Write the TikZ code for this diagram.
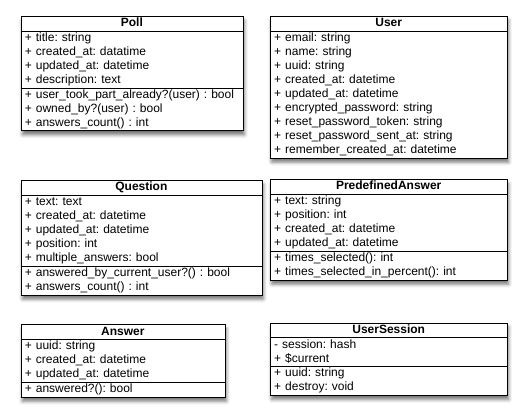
\documentclass[tikz,border=0pt]{standalone}
\usepackage{fontspec}
\setmainfont{Liberation Sans}
\usetikzlibrary{positioning,shapes.multipart,shadows.blur}

\begin{document}
\begin{tikzpicture}[
        x=1pt, y=1pt,
        node distance=20pt,
        umlclass/.style={draw, line width=0.8pt, fill=white, anchor=north west,
            rectangle split, rectangle split parts=3, align=left,
            inner xsep=4pt, inner ysep=0pt,
            font=\fontsize{12}{14}\selectfont\frenchspacing,
            blur shadow={shadow xshift=1.5pt, shadow yshift=-4pt, shadow blur radius=3.5pt, shadow opacity=55}},
        umlsmall/.style={umlclass, rectangle split parts=2}
    ]
        \useasboundingbox (0,0) rectangle (526,-411);
        \node[umlclass, text width=214pt] (poll) at (20.5,-16) {\hfill\textbf{Poll}\hfill\strut
            \nodepart{two}\strut + title: string\\
            \strut + created\_at: datatime\\
            \strut + updated\_at: datetime\\
            \strut + description: text
            \nodepart{three}\strut + user\_took\_part\_already?(user) : bool\\
            \strut + owned\_by?(user) : bool\\
            \strut + answers\_count() : int};
        \node[umlsmall, text width=229pt, right=26.5pt of poll.north east, anchor=north west] (user) {\hfill\textbf{User}\hfill\strut
            \nodepart{two}\strut + email: string\\
            \strut + name: string\\
            \strut + uuid: string\\
            \strut + created\_at: datetime\\
            \strut + updated\_at: datetime\\
            \strut + encrypted\_password: string\\
            \strut + reset\_password\_token: string\\
            \strut + reset\_password\_sent\_at: string\\
            \strut + remember\_created\_at: datetime};
        \node[umlclass, text width=233pt, below=49pt of poll.south west, anchor=north west] (question) {\hfill\textbf{Question}\hfill\strut
            \nodepart{two}\strut + text: text\\
            \strut + created\_at: datetime\\
            \strut + updated\_at: datetime\\
            \strut + position: int\\
            \strut + multiple\_answers: bool
            \nodepart{three}\strut + answered\_by\_current\_user?() : bool\\
            \strut + answers\_count() : int};
        \node[umlclass, text width=229pt, below=21pt of user.south west, anchor=north west] (predef) {\hfill\textbf{PredefinedAnswer}\hfill\strut
            \nodepart{two}\strut + text: string\\
            \strut + position: int\\
            \strut + created\_at: datetime\\
            \strut + updated\_at: datetime
            \nodepart{three}\strut + times\_selected(): int\\
            \strut + times\_selected\_in\_percent(): int};
        \node[umlclass, text width=196pt, below=29pt of question.south west, anchor=north west] (answer) {\hfill\textbf{Answer}\hfill\strut
            \nodepart{two}\strut + uuid: string\\
            \strut + created\_at: datetime\\
            \strut + updated\_at: datetime
            \nodepart{three}\strut + answered?(): bool};
        \node[umlclass, text width=229pt, below=42pt of predef.south west, anchor=north west] (session) {\hfill\textbf{UserSession}\hfill\strut
            \nodepart{two}\strut - session: hash\\
            \strut + \$current
            \nodepart{three}\strut + uuid: string\\
            \strut + destroy: void};
    \end{tikzpicture}
\end{document}
